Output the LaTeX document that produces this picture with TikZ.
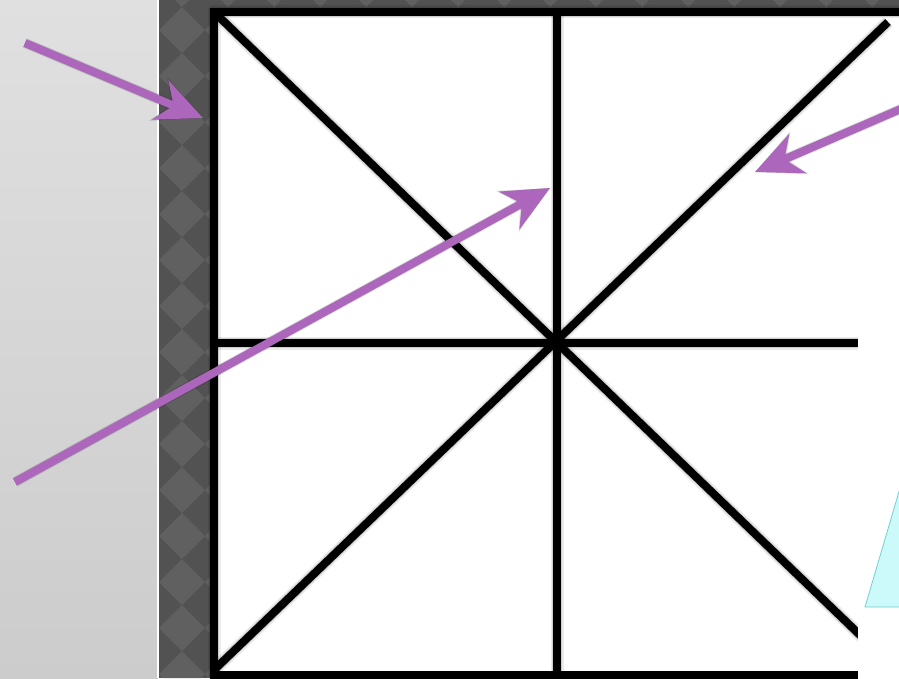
\documentclass[tikz,border=0pt]{standalone}
\usetikzlibrary{arrows.meta}
\definecolor{purp}{RGB}{172,102,188}
\definecolor{patA}{RGB}{82,82,82}
\definecolor{patB}{RGB}{96,96,96}
\definecolor{panelTop}{RGB}{224,224,224}
\definecolor{panelBot}{RGB}{204,204,204}
\definecolor{cyanfill}{RGB}{204,250,250}
\definecolor{cyanedge}{RGB}{110,210,205}
\begin{document}
\begin{tikzpicture}[x=1pt,y=-1pt,
  gridline/.style={line width=8pt, black},
  gridshadowA/.style={line width=13pt, black, opacity=0.08},
  gridshadowB/.style={line width=10pt, black, opacity=0.12},
  pointer/.style={purp, line width=8pt, -{Stealth[length=46pt,width=42pt,inset=14pt]}},
  pointershadowA/.style={black, opacity=0.12, line width=10pt, -{Stealth[length=48pt,width=46pt,inset=14pt]}},
  pointershadowB/.style={black, opacity=0.2, line width=8pt, -{Stealth[length=46pt,width=42pt,inset=14pt]}}
]
\useasboundingbox (0,0) rectangle (899,678);
\clip (0,0) rectangle (899,678);
% left panel
\shade[top color=panelTop, bottom color=panelBot] (0,0) rectangle (158,678);
\fill[white] (156.5,0) rectangle (158.5,678);
% patterned strip
\begin{scope}
  \clip (158.5,0) rectangle (210,678) (158.5,0) rectangle (899,8);
  \fill[patA] (158.5,0) rectangle (899,678);
  \foreach \i in {0,...,16} {
    \foreach \j in {-1,...,15} {
      \fill[patB] ({182+46*\i},{30+46*\j-23}) -- ({182+46*\i+23},{30+46*\j}) -- ({182+46*\i},{30+46*\j+23}) -- ({182+46*\i-23},{30+46*\j}) -- cycle;
    }
  }
\end{scope}
% white board
\fill[white] (210,8) rectangle (899,678);
% coordinates
\coordinate (tlA) at (210,11.5);
\coordinate (trA) at (899,11.5);
\coordinate (ltop) at (214,8);
\coordinate (lbot) at (214,678);
\coordinate (mtop) at (557,8);
\coordinate (mbot) at (557,678);
\coordinate (hl) at (213,343);
\coordinate (hr) at (899,343);
\coordinate (bl) at (210,675);
\coordinate (br) at (858,675);
\coordinate (d1a) at (214,12);
\coordinate (d1b) at (890,664);
\coordinate (d2a) at (214,670);
\coordinate (d2b) at (888,22);
% shadows
\begin{scope}[shift={(3,4)}]
  \draw[gridshadowA] (mtop) -- (mbot);
  \draw[gridshadowA] (hl) -- (hr);
  \draw[gridshadowA] (d1a) -- (d1b);
  \draw[gridshadowA] (d2a) -- (d2b);
  \draw[gridshadowA] (tlA) -- (trA);
  \draw[gridshadowA] (ltop) -- (lbot);
\end{scope}
\begin{scope}[shift={(2,3)}]
  \draw[gridshadowB] (mtop) -- (mbot);
  \draw[gridshadowB] (hl) -- (hr);
  \draw[gridshadowB] (d1a) -- (d1b);
  \draw[gridshadowB] (d2a) -- (d2b);
  \draw[gridshadowB] (tlA) -- (trA);
  \draw[gridshadowB] (ltop) -- (lbot);
\end{scope}
% lines
\draw[gridline] (ltop) -- (lbot);
\draw[gridline] (tlA) -- (trA);
\draw[gridline] (mtop) -- (mbot);
\draw[gridline] (hl) -- (hr);
\draw[gridline] (bl) -- (br);
\draw[gridline] (d1a) -- (d1b);
\draw[gridline] (d2a) -- (d2b);
% covering white region at right
\fill[white] (858,337) rectangle (899,671);
\fill[white] (858,671) rectangle (899,678);
% cyan triangle
\draw[cyanedge, fill=cyanfill, line width=0.8pt] (865,607) -- (903,478) -- (945,607) -- cycle;
% arrows
\coordinate (a1s) at (25,43);
\coordinate (a1e) at (203,118);
\coordinate (a2s) at (910,105);
\coordinate (a2e) at (755,172);
\coordinate (a3s) at (15,482);
\coordinate (a3e) at (550,188);
\begin{scope}[shift={(4,5)}]
  \draw[pointershadowA] (a1s) -- (a1e);
  \draw[pointershadowA] (a2s) -- (a2e);
  \draw[pointershadowA] (a3s) -- (a3e);
\end{scope}
\begin{scope}[shift={(3,4)}]
  \draw[pointershadowB] (a1s) -- (a1e);
  \draw[pointershadowB] (a2s) -- (a2e);
  \draw[pointershadowB] (a3s) -- (a3e);
\end{scope}
\draw[pointer] (a1s) -- (a1e);
\draw[pointer] (a2s) -- (a2e);
\draw[pointer] (a3s) -- (a3e);
\end{tikzpicture}
\end{document}
